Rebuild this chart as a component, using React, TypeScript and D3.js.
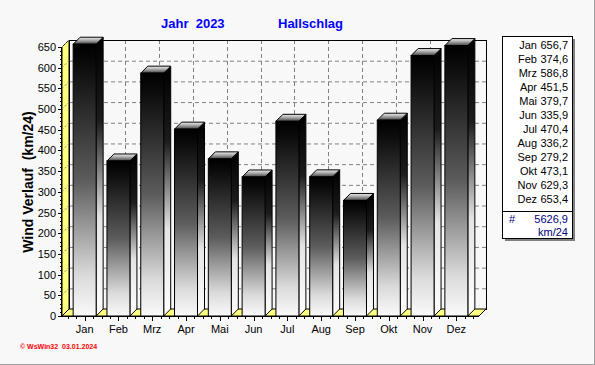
import React from "react";
import * as d3 from "d3";

const months = ["Jan", "Feb", "Mrz", "Apr", "Mai", "Jun", "Jul", "Aug", "Sep", "Okt", "Nov", "Dez"];
const values = [656.7, 374.6, 586.8, 451.5, 379.7, 335.9, 470.4, 336.2, 279.2, 473.1, 629.3, 653.4];
const yTicks = [0, 50, 100, 150, 200, 250, 300, 350, 400, 450, 500, 550, 600, 650];
const totalLabel = "5626,9";
const unitLabel = "km/24";
const titleYear = "Jahr  2023";
const titlePlace = "Hallschlag";
const yAxisTitle = "Wind Verlauf  (km/24)";
const footer = "\u00A9 WsWin32  03.01.2024";

const W = 595, H = 365;
const D = 7; // depth offset
const X0 = 62, X1 = 479, YB = 316, YT = 47;
const FONT = "'Liberation Sans', Arial, sans-serif";

const fmt = (v: number) => v.toFixed(1).replace(".", ",");

export default function App() {
  const x = d3.scaleBand<string>().domain(months).range([X0, X1]).paddingInner(0.32).paddingOuter(0.33);
  const y = d3.scaleLinear().domain([0, 650]).range([YB, YT]);
  const bw = x.bandwidth();
  const step = x.step();
  const centers = months.map((m) => (x(m) as number) + bw / 2);

  const tickXs: { x: number; major: boolean }[] = [];
  const c0 = centers[0];
  for (let k = -20; k < 100; k++) {
    const tx = c0 + (k * step) / 4;
    if (tx < X0 + 1 || tx > X1 - 1) continue;
    tickXs.push({ x: tx, major: k % 4 === 0 && k >= 0 && k < 48 });
  }
  const minorY = d3.range(0, 651, 10);

  return (
    <svg width={W} height={H} style={{ position: "absolute", left: 0, top: 0, background: "#f8f8f8" }}>
      <defs>
        <linearGradient id="gFront" x1="0" y1="0" x2="0" y2="1">
          <stop offset="0" stopColor="#000" />
          <stop offset="0.08" stopColor="#0c0c0c" />
          <stop offset="0.5" stopColor="#5c5c5c" />
          <stop offset="0.85" stopColor="#dadada" />
          <stop offset="1" stopColor="#fafafa" />
        </linearGradient>
        <linearGradient id="gSide" x1="0" y1="0" x2="0" y2="1">
          <stop offset="0" stopColor="#000" />
          <stop offset="0.3" stopColor="#1c1c1c" />
          <stop offset="0.65" stopColor="#e4e4e4" />
          <stop offset="1" stopColor="#fff" />
        </linearGradient>
        <linearGradient id="gTop" x1="0" y1="0" x2="0" y2="1">
          <stop offset="0" stopColor="#f0f0f0" />
          <stop offset="0.5" stopColor="#a0a0a0" />
          <stop offset="1" stopColor="#404040" />
        </linearGradient>
      </defs>
      <rect x={0} y={0} width={W} height={H} fill="#f8f8f8" />
      <line x1={W - 0.5} y1={0} x2={W - 0.5} y2={H} stroke="#a0a0a0" />
      <line x1={0} y1={H - 0.5} x2={W} y2={H - 0.5} stroke="#a0a0a0" />

      <text x={161} y={28} fontFamily={FONT} fontSize={13} fontWeight="bold" fill="#0000ff" style={{ whiteSpace: "pre" }}>{titleYear}</text>
      <text x={278} y={28} fontFamily={FONT} fontSize={13} fontWeight="bold" fill="#0000ff">{titlePlace}</text>

      <rect x={X0 + D} y={YT - D} width={X1 - X0} height={YB - YT} fill="#f8f8f8" />
      {yTicks.slice(1).map((v) => (
        <line key={"hg" + v} x1={X0 + D} x2={X1 + D} y1={y(v) - D + 0.5} y2={y(v) - D + 0.5} stroke="#808080" strokeDasharray="4,3" />
      ))}
      {centers.map((c, i) => (
        <line key={"vg" + i} x1={Math.round(c + D) + 0.5} x2={Math.round(c + D) + 0.5} y1={YT - D} y2={YB - D} stroke="#808080" strokeDasharray="4,3" />
      ))}
      <rect x={X0 + D + 0.5} y={YT - D + 0.5} width={X1 - X0} height={YB - YT} fill="none" stroke="#000" />

      <polygon points={`${X0},${YB} ${X0},${YT} ${X0 + D},${YT - D} ${X0 + D},${YB - D}`} fill="#ffff80" stroke="#000" />
      {yTicks.slice(1).map((v) => (
        <line key={"wg" + v} x1={X0} y1={y(v)} x2={X0 + D} y2={y(v) - D} stroke="#808080" strokeDasharray="2,2" />
      ))}
      <polygon points={`${X0},${YB} ${X0 + D},${YB - D} ${X1 + D},${YB - D} ${X1},${YB}`} fill="#ffff80" stroke="#000" />

      {values.map((v, i) => {
        const bx = x(months[i]) as number;
        const ty = y(v);
        const x1 = bx + bw;
        return (
          <g key={"b" + i} stroke="#000" strokeWidth={1}>
            <polygon points={`${x1},${ty} ${x1 + D},${ty - D} ${x1 + D},${YB - D} ${x1},${YB}`} fill="url(#gSide)" />
            <polygon points={`${bx},${ty} ${bx + D},${ty - D} ${x1 + D},${ty - D} ${x1},${ty}`} fill="url(#gTop)" />
            <rect x={bx} y={ty} width={bw} height={YB - ty} fill="url(#gFront)" />
          </g>
        );
      })}

      <line x1={X0 - 0.5} x2={X0 - 0.5} y1={YT} y2={YB} stroke="#000" />
      {minorY.map((v) => (
        <line key={"mt" + v} x1={X0 - (v % 50 === 0 ? 4 : 2)} x2={X0} y1={Math.round(y(v)) + 0.5} y2={Math.round(y(v)) + 0.5} stroke="#000" />
      ))}
      {yTicks.map((v) => (
        <text key={"yl" + v} x={56} y={y(v) + 4} textAnchor="end" fontFamily={FONT} fontSize={11} fill="#000">{v}</text>
      ))}
      <text transform={`translate(33,182) rotate(-90)`} textAnchor="middle" fontFamily={FONT} fontSize={14} fontWeight="bold" fill="#000" style={{ whiteSpace: "pre" }}>{yAxisTitle}</text>

      <line x1={X0} x2={X1} y1={YB + 0.5} y2={YB + 0.5} stroke="#000" />
      {tickXs.map((t, i) => (
        <line key={"xt" + i} x1={Math.round(t.x) + 0.5} x2={Math.round(t.x) + 0.5} y1={YB} y2={YB + (t.major ? 5 : 3)} stroke="#000" />
      ))}
      {months.map((m, i) => (
        <text key={"xl" + m} x={centers[i]} y={333} textAnchor="middle" fontFamily={FONT} fontSize={11} fill="#000">{m}</text>
      ))}

      <rect x={505} y={39} width={70} height={202} fill="#808080" />
      <rect x={502.5} y={36.5} width={70} height={202} fill="#fff" stroke="#000" />
      <line x1={502} x2={573} y1={211.5} y2={211.5} stroke="#000" />
      {months.map((m, i) => (
        <g key={"lg" + m}>
          <text x={537} y={49 + i * 14} textAnchor="end" fontFamily={FONT} fontSize={11} fill="#000">{m}</text>
          <text x={568} y={49 + i * 14} textAnchor="end" fontFamily={FONT} fontSize={11} fill="#000">{fmt(values[i])}</text>
        </g>
      ))}
      <text x={509} y={223} fontFamily={FONT} fontSize={11} fill="#000080">#</text>
      <text x={568} y={223} textAnchor="end" fontFamily={FONT} fontSize={11} fill="#000080">{totalLabel}</text>
      <text x={568} y={236} textAnchor="end" fontFamily={FONT} fontSize={11} fill="#000080">{unitLabel}</text>

      <text x={20} y={349} fontFamily={FONT} fontSize={7} fontWeight="bold" fill="#ff0000" style={{ whiteSpace: "pre" }}>{footer}</text>
    </svg>
  );
}
